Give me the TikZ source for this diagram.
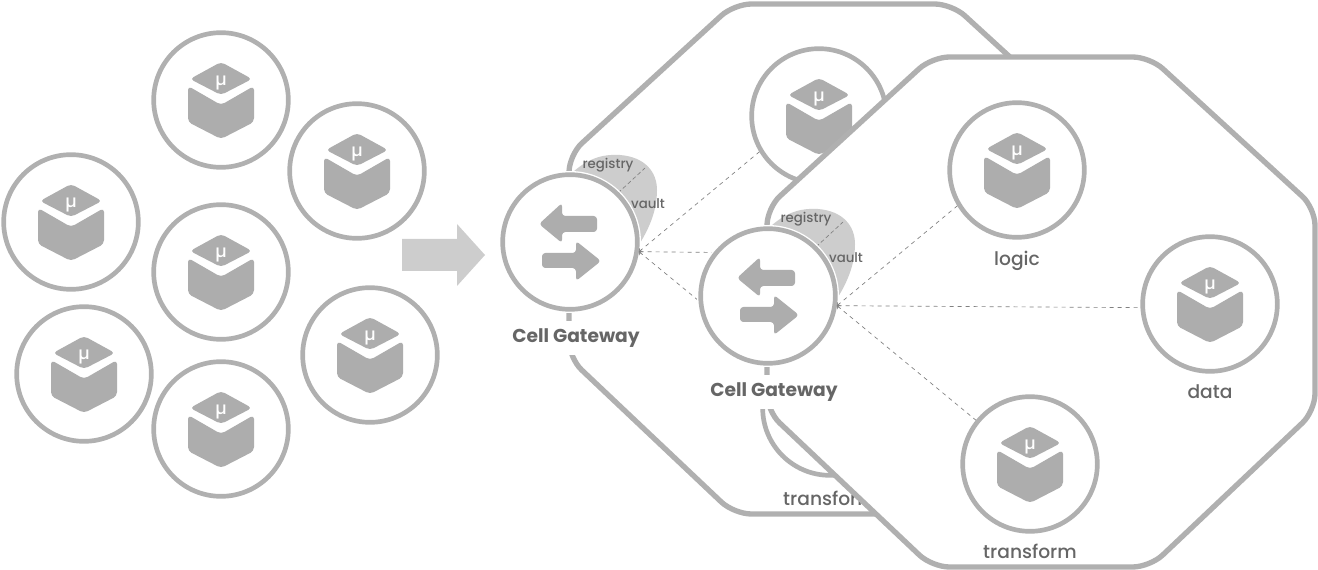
\documentclass[tikz,border=0pt]{standalone}
\usepackage{fontspec}
\setmainfont{Poppins}
\newfontfamily\medfont{Poppins Medium}
\definecolor{wallgray}{HTML}{B0B0B0}
\definecolor{cubegray}{HTML}{ADADAD}
\definecolor{blobgray}{HTML}{CDCDCD}
\definecolor{labelgray}{HTML}{666666}
\tikzset{
  svc/.style={circle,draw=wallgray,fill=white,line width=3.5pt,minimum size=101pt,inner sep=0pt},
  gateway/.style={svc,preaction={draw=white,line width=5.5pt}},
  tag/.style={text=labelgray,font=\medfont\fontsize{14}{16}\selectfont},
  gwtag/.style={text=labelgray,font=\fontsize{14}{16}\selectfont\bfseries,fill=white,inner xsep=1pt,minimum height=25pt},
  tiny/.style={text=labelgray,font=\medfont\fontsize{10}{12}\selectfont,inner sep=0pt},
  link/.style={<-,>=to,draw=gray,dash pattern=on 3pt off 3pt,line width=.5pt},
  cube/.pic={
    \fill[cubegray,rounded corners=3pt] (0,-38) -- (31,-21) -- (0,-5) -- (-31,-21) -- cycle;
    \fill[cubegray,rounded corners=3pt] (-33,-14) -- (0,5) -- (33,-14) -- (33,22) -- (0,39) -- (-33,22) -- cycle;
    \node[text=white,font=\medfont\fontsize{13}{13}\selectfont,inner sep=0pt] (-mu) at (0,-17) {µ};
  },
  cell/.pic={
    \draw[draw=wallgray,fill=white,line width=4pt,rounded corners=13pt]
      (165,0) -- (383,0) -- (548,151) -- (548,354) -- (383,510) -- (165,510) -- (0,354) -- (0,151) -- cycle;
  },
  swap/.pic={
    \fill[cubegray,rounded corners=2.5pt] (-31,-18) -- (-8,-39) -- (-8,-26) -- (27,-26) -- (27,-10) -- (-8,-10) -- (-8,1) -- cycle;
    \fill[cubegray,rounded corners=2.5pt] (31,19) -- (6,-1) -- (6,11) -- (-28,11) -- (-28,26) -- (6,26) -- (6,39) -- cycle;
  },
  blob/.pic={
    \fill[blobgray] (3,-70) .. controls (20,-85) and (35,-88) .. (50,-87)
      .. controls (75,-85) and (87,-70) .. (87,-52) .. controls (87,-30) and (78,-12) .. (70,1) -- cycle;
    \coordinate (-a) at (48,-49);
    \coordinate (-b) at (75,-74);
    \draw[draw=gray,dash pattern=on 3pt off 2pt,line width=.5pt] (-a) -- (-b);
    \node[tiny] (-reg) at (38,-77) {registry};
    \node[tiny] (-vlt) at (78,-38) {vault};
  }
}

\begin{document}
\begin{tikzpicture}[x=.75pt,y=-.75pt]
  \useasboundingbox (0,0) rectangle (1318,570);

  % loose services
  \foreach \n/\x/\y in {m1/221/100,m2/357/171,m3/71/222,m4/221/272,m5/84/374,m6/370/355,m7/221/429} {
    \node[svc] (\n) at (\x,\y) {};
    \pic at (\n) {cube};
  }

  \fill[blobgray] (402,239) -- (457,239) -- (457,224) -- (485,255) -- (457,286) -- (457,271) -- (402,271) -- cycle;

  % back cell
  \pic at (569,4) {cell};
  \node[svc] (lga) at (819,116) {};
  \pic at (lga) {cube};
  \node[svc] (dta) at (1012,251) {};
  \node[svc] (tra) at (830,408) {};
  \node[tag] (tratag) at (830,498) {transform};
  \node[gwtag] (gwatag) at (576,338) {Cell Gateway};
  \pic at (570,242) {blob};
  \node[gateway] (gwa) at (570,242) {};
  \pic at (gwa) {swap};
  \begin{scope}[link]
    \draw (gwa.-8) -- (lga.211);
    \draw (gwa.-8) -- (dta.183);
    \draw (gwa.-8) -- (tra.141);
  \end{scope}

  % front cell
  \pic at (767,57) {cell};
  \node[svc] (lgb) at (1017,170) {};
  \pic at (lgb) {cube};
  \node[tag] (lgbtag) at (1017,261) {logic};
  \node[svc] (dtb) at (1210,304) {};
  \pic at (dtb) {cube};
  \node[tag] (dtbtag) at (1210,392) {data};
  \node[svc] (trb) at (1030,464) {};
  \pic at (trb) {cube};
  \node[tag] (trbtag) at (1030,551) {transform};
  \node[gwtag] (gwbtag) at (774,392) {Cell Gateway};
  \pic at (768,296) {blob};
  \node[gateway] (gwb) at (768,296) {};
  \pic at (gwb) {swap};
  \begin{scope}[link]
    \draw (gwb.-8) -- (lgb.211);
    \draw (gwb.-8) -- (dtb.183);
    \draw (gwb.-8) -- (trb.141);
  \end{scope}
\end{tikzpicture}
\end{document}
